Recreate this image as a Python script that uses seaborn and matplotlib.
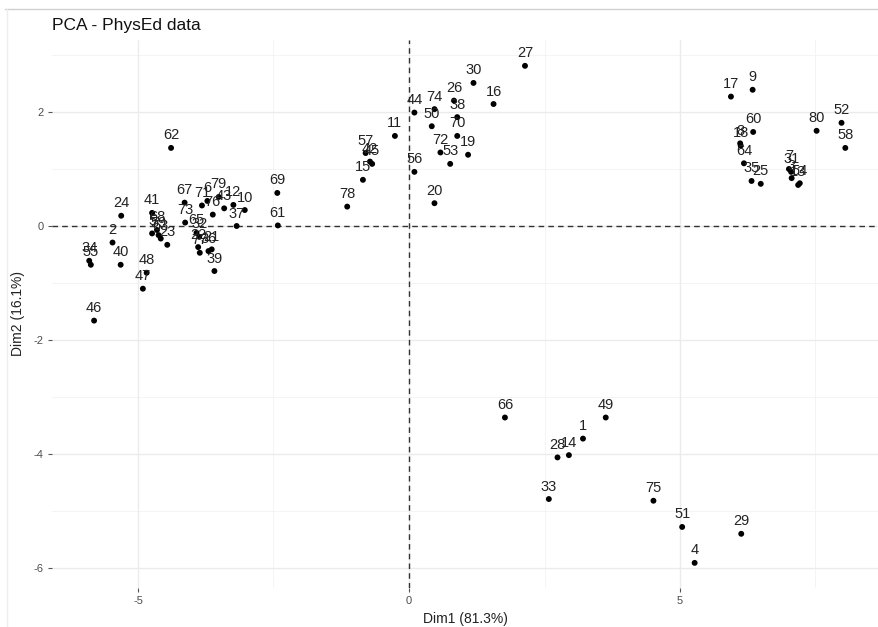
import matplotlib
matplotlib.use("Agg")
import matplotlib.pyplot as plt
from matplotlib.lines import Line2D
import seaborn as sns
import pandas as pd

# Individual scores on the first two principal components
labels = [
    "1", "2", "3", "4", "5", "6", "7", "8", "9", "10",
    "11", "12", "13", "14", "15", "16", "17", "18", "19", "20",
    "21", "22", "23", "24", "25", "26", "27", "28", "29", "30",
    "31", "32", "33", "34", "35", "36", "37", "38", "39", "40",
    "41", "42", "43", "44", "45", "46", "47", "48", "49", "50",
    "51", "52", "53", "54", "55", "56", "57", "58", "59", "60",
    "61", "62", "63", "64", "65", "66", "67", "68", "69", "70",
    "71", "72", "73", "74", "75", "76", "77", "78", "79", "80",
]
dim1 = [
    3.21, -5.47, 7.06, 5.27, -4.74, -3.72, 7.01, 6.11, 6.34, -3.03,
    -0.26, -3.24, 7.18, 2.95, -0.85, 1.56, 5.94, 6.12, 1.09, 0.47,
    -3.64, -3.89, -4.46, -5.31, 6.49, 0.83, 2.14, 2.74, 6.13, 1.19,
    7.05, -3.87, 2.58, -5.90, 6.32, -3.70, -3.18, 0.89, -3.59, -5.32,
    -4.74, -0.72, -3.41, 0.10, -0.68, -5.81, -4.91, -4.84, 3.63, 0.42,
    5.04, 7.98, 0.76, 7.21, -5.87, 0.10, -0.80, 8.05, -4.62, 6.35,
    -2.42, -4.39, -4.58, 6.18, -3.92, 1.77, -4.14, -4.65, -2.43, 0.89,
    -3.82, 0.58, -4.13, 0.47, 4.51, -3.62, -3.86, -1.14, -3.51, 7.52,
]
dim2 = [
    -3.73, -0.29, 0.84, -5.91, -0.13, 0.44, 1.00, 1.45, 2.39, 0.28,
    1.58, 0.37, 0.72, -4.02, 0.81, 2.14, 2.27, 1.41, 1.25, 0.40,
    -0.41, -0.37, -0.33, 0.18, 0.74, 2.20, 2.81, -4.06, -5.40, 2.51,
    0.95, -0.19, -4.79, -0.61, 0.79, -0.44, 0.00, 1.91, -0.79, -0.68,
    0.23, 1.13, 0.31, 1.99, 1.09, -1.66, -1.10, -0.82, -3.36, 1.75,
    -5.28, 1.81, 1.09, 0.75, -0.68, 0.95, 1.28, 1.37, -0.16, 1.65,
    0.01, 1.37, -0.22, 1.10, -0.12, -3.36, 0.41, -0.07, 0.58, 1.58,
    0.36, 1.29, 0.06, 2.05, -4.82, 0.20, -0.47, 0.34, 0.51, 1.67,
]

x_ticks = [-5, 0, 5]
x_tick_labels = ["-5", "0", "5"]
y_ticks = [-6, -4, -2, 0, 2]
y_tick_labels = ["-6", "-4", "-2", "0", "2"]

df = pd.DataFrame({"Dim1": dim1, "Dim2": dim2, "label": labels})

sns.set_theme(style="white")
plt.rcParams["font.family"] = ["Liberation Sans", "DejaVu Sans"]

fig = plt.figure(figsize=(8.79, 6.27), dpi=100)
W, H = 879, 627
left_px, right_px, top_px, bottom_px = 52, 879, 40, 588
ax = fig.add_axes([left_px / W, 1 - bottom_px / H,
                   (right_px - left_px) / W, (bottom_px - top_px) / H])
ax.set_facecolor("white")

# minor and major grid, ggplot-like minimal theme
for v in [-2.5, 2.5, 7.5]:
    ax.axvline(v, color="#F2F2F2", lw=0.6, zorder=0)
for v in [-5, -3, -1, 1, 3]:
    ax.axhline(v, color="#F2F2F2", lw=0.6, zorder=0)
ax.set_xticks(x_ticks)
ax.set_yticks(y_ticks)
ax.grid(True, color="#EBEBEB", lw=1.0, zorder=0)
ax.set_axisbelow(True)

# reference lines through the origin
ax.axhline(0, color="#333333", lw=1.0, ls=(0, (4, 3)), zorder=1)
ax.axvline(0, color="#333333", lw=1.0, ls=(0, (4, 3)), zorder=1)

sns.scatterplot(data=df, x="Dim1", y="Dim2", color="black", s=18,
                edgecolor="none", ax=ax, zorder=3, legend=False)

for xv, yv, lab in zip(df["Dim1"], df["Dim2"], df["label"]):
    ax.annotate(lab, (xv, yv), xytext=(0, 9), textcoords="offset points",
                ha="center", va="center", fontsize=10.5, color="#222222",
                zorder=4)

ax.set_xlim((left_px - 409) / 54.2, (right_px - 409) / 54.2)
ax.set_ylim((226 - bottom_px) / 57.0, (226 - top_px) / 57.0)

ax.set_xticklabels(x_tick_labels)
ax.set_yticklabels(y_tick_labels)
ax.tick_params(axis="both", which="major", length=3, width=0.8,
               color="#555555", labelcolor="#4D4D4D", labelsize=8, pad=3,
               bottom=True, left=True)
for sp in ax.spines.values():
    sp.set_visible(False)

ax.set_xlabel("Dim1 (81.3%)", fontsize=10, color="#222222", labelpad=4)
ax.set_ylabel("Dim2 (16.1%)", fontsize=10, color="#222222", labelpad=6)
ax.set_title("PCA - PhysEd data", fontsize=12.5, color="#111111",
             loc="left", pad=7)

# thin frame edges along the top and left of the image
fig.add_artist(Line2D([5 / W, 1], [1 - 9 / H, 1 - 9 / H],
                      transform=fig.transFigure, color="#D0D0D0", lw=1))
fig.add_artist(Line2D([7 / W, 7 / W], [0, 1 - 9 / H],
                      transform=fig.transFigure, color="#EEEEEE", lw=1))

fig.savefig("out.png", dpi=100)
